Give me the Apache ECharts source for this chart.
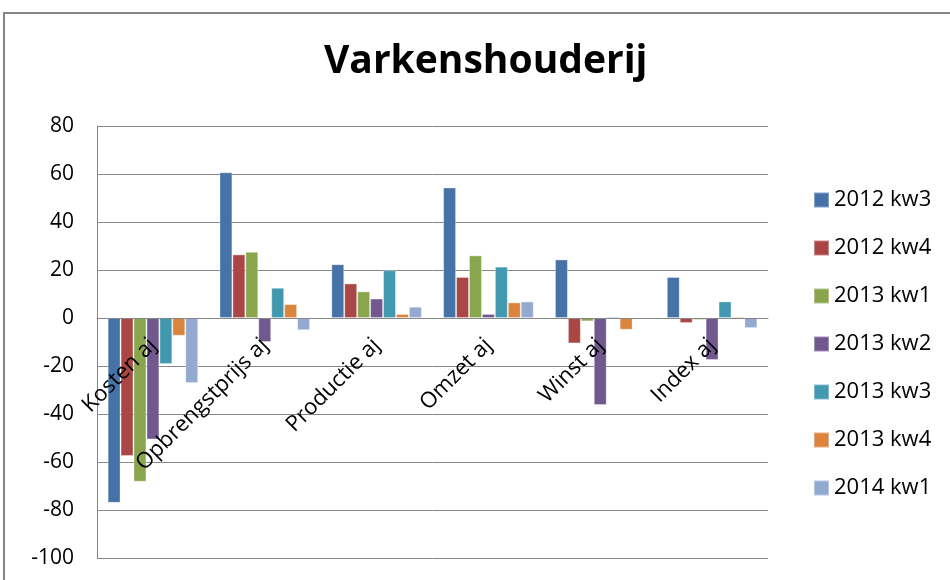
<!DOCTYPE html>
<html>
<head>
<meta charset="utf-8">
<script src="https://cdn.jsdelivr.net/npm/echarts@6/dist/echarts.min.js"></script>
<style>
  html, body { margin: 0; padding: 0; background: #fff; }
  #chart { width: 950px; height: 580px; }
</style>
</head>
<body>
<div id="chart"></div>
<script>
// categorieen en reeksen
var categories = ['Kosten aj', 'Opbrengstprijs aj', 'Productie aj', 'Omzet aj', 'Winst aj', 'Index aj'];
var seriesNames = ['2012 kw3', '2012 kw4', '2013 kw1', '2013 kw2', '2013 kw3', '2013 kw4', '2014 kw1'];
var kw3_2012 = [-77, 60.7, 22.4, 54.4, 24.4, 17.1];
var kw4_2012 = [-57.5, 26.5, 14.4, 17.1, -10.6, -2.1];
var kw1_2013 = [-68.2, 27.6, 11.1, 26.1, -1.4, -0.8];
var kw2_2013 = [-50.6, -10, 8.1, 1.7, -36.3, -17.5];
var kw3_2013 = [-19.2, 12.6, 19.9, 21.4, 0.6, 6.9];
var kw4_2013 = [-7.4, 5.8, 1.7, 6.5, -4.9, 0.6];
var kw1_2014 = [-27.1, -5.1, 4.7, 6.9, 0, -4.2];
var yTicks = { min: -100, max: 80, interval: 20 };

var colors = ['#4572A7', '#AA4643', '#89A54E', '#71588F', '#4198AF', '#DB843D', '#93A9CF'];
var allData = [kw3_2012, kw4_2012, kw1_2013, kw2_2013, kw3_2013, kw4_2013, kw1_2014];

var font = "'Open Sans', 'Noto Sans', sans-serif";

var myChart = echarts.init(document.getElementById('chart'));

// de categorie-as ligt op de nullijn: 100 van de 180 eenheden boven de onderkant
var plotHeight = 580 - 126 - 22;
var zeroOffset = -plotHeight * (0 - yTicks.min) / (yTicks.max - yTicks.min);

var series = [];
for (var i = 0; i < seriesNames.length; i++) {
  series.push({
    name: seriesNames[i],
    type: 'bar',
    data: allData[i],
    barGap: '0%',
    barCategoryGap: '19%',
    itemStyle: { color: colors[i], borderColor: 'rgba(255,255,255,0.35)', borderWidth: 1 }
  });
}

var option = {
  animation: false,
  color: colors,
  graphic: [{
    type: 'rect',
    shape: { x: 4, y: 13, width: 960, height: 600 },
    style: { fill: 'none', stroke: '#868686', lineWidth: 2 },
    silent: true
  }],
  title: {
    text: 'Varkenshouderij',
    left: 319,
    top: 37,
    textStyle: { fontFamily: font, fontWeight: 'bold', fontSize: 39, color: '#000' }
  },
  legend: {
    orient: 'vertical',
    left: 808,
    top: 184,
    itemWidth: 15,
    itemHeight: 15,
    itemGap: 26,
    icon: 'rect',
    textStyle: { fontFamily: font, fontSize: 22, color: '#000' },
    data: seriesNames
  },
  grid: { left: 97, right: 182, top: 126, bottom: 22, containLabel: false, outerBoundsMode: 'none' },
  xAxis: {
    type: 'category',
    data: categories,
    position: 'bottom',
    offset: zeroOffset,
    z: 10,
    axisLine: { onZero: false, lineStyle: { color: '#868686', width: 1 } },
    axisTick: { show: false },
    axisLabel: { rotate: 45, fontFamily: font, fontSize: 22, color: '#000', margin: 24, interval: 0 }
  },
  yAxis: {
    type: 'value',
    min: yTicks.min,
    max: yTicks.max,
    interval: yTicks.interval,
    axisLine: { show: true, lineStyle: { color: '#868686' } },
    axisTick: { show: false },
    splitLine: { lineStyle: { color: '#868686', width: 1 } },
    axisLabel: { fontFamily: font, fontSize: 21, color: '#000', margin: 23 }
  },
  series: series
};

myChart.setOption(option);
</script>
</body>
</html>
